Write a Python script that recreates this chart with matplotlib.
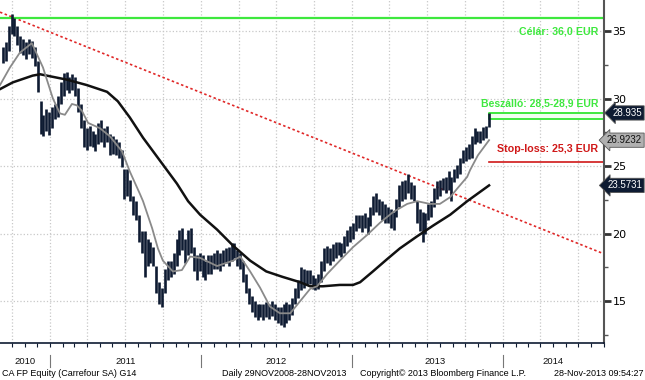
import matplotlib
matplotlib.use('Agg')
import matplotlib.pyplot as plt
import matplotlib.dates as mdates
import pandas as pd

# weekly high / low of CA FP Equity
week_high = [33.8, 34.2, 35.4, 36.3, 36.0, 35.4, 34.6, 34.4, 34.2, 34.4,
             34.3, 33.8, 32.8, 29.8, 28.8, 29.2, 29.0, 29.4, 29.6, 30.2,
             31.2, 31.9, 32.0, 31.6, 31.8, 31.6, 30.8, 29.6, 28.4, 27.8,
             28.0, 27.6, 27.4, 28.2, 28.4, 27.8, 28.0, 27.4, 27.2, 27.0,
             26.8, 26.2, 24.8, 24.8, 24.0, 22.8, 22.4, 21.4, 20.2, 20.2,
             19.6, 19.4, 19.0, 17.6, 16.4, 16.0, 17.4, 18.0, 18.0, 18.6,
             19.6, 20.3, 20.4, 19.6, 20.3, 20.4, 19.0, 18.4, 18.6, 18.4,
             18.0, 18.4, 18.4, 18.6, 18.8, 18.6, 18.8, 18.9, 19.0, 19.3,
             19.3, 18.8, 18.6, 18.0, 17.0, 16.0, 15.4, 15.0, 14.8, 14.8,
             14.8, 14.9, 14.8, 15.0, 14.8, 14.6, 14.6, 14.8, 14.9, 14.8,
             15.2, 16.0, 16.6, 17.5, 17.4, 17.3, 17.3, 16.9, 16.7, 17.0,
             18.0, 18.9, 19.1, 18.9, 19.2, 19.4, 19.4, 19.3, 19.8, 20.3,
             20.6, 20.8, 21.4, 21.4, 21.4, 21.5, 21.2, 22.0, 22.8, 23.0,
             22.6, 22.4, 22.2, 22.0, 21.8, 21.6, 22.6, 23.6, 23.9, 24.0,
             24.4, 23.8, 23.6, 22.4, 21.8, 21.6, 21.5, 22.2, 22.4, 23.4,
             23.9, 24.0, 24.1, 24.2, 24.6, 24.2, 24.8, 25.1, 25.6, 26.2,
             26.4, 26.6, 27.2, 27.8, 27.6, 27.6, 27.9, 28.0, 28.95]
week_low = [32.6, 32.8, 33.5, 34.8, 34.6, 34.0, 33.4, 33.2, 32.9, 33.3,
            33.0, 32.4, 30.5, 27.4, 27.2, 27.6, 27.3, 27.8, 28.5, 28.6,
            29.6, 30.2, 30.6, 30.4, 30.6, 30.2, 29.0, 27.8, 26.4, 26.2,
            26.5, 26.4, 26.1, 26.6, 26.8, 26.4, 26.8, 25.8, 25.9, 25.8,
            25.6, 24.9, 22.6, 22.8, 22.4, 21.4, 21.0, 19.4, 18.6, 16.8,
            17.6, 17.8, 17.6, 15.6, 14.8, 14.6, 15.6, 16.6, 16.8, 17.0,
            17.6, 18.4, 18.8, 17.8, 18.4, 18.6, 17.2, 16.6, 17.2, 16.8,
            16.6, 17.0, 17.0, 17.4, 17.4, 17.2, 17.6, 17.8, 17.6, 18.0,
            18.2, 17.6, 17.4, 16.4, 15.6, 14.8, 14.2, 13.8, 13.6, 13.8,
            13.6, 13.8, 13.7, 13.9, 13.6, 13.4, 13.2, 13.1, 13.4, 13.6,
            14.0, 14.8, 15.2, 15.8, 16.0, 16.2, 16.3, 15.9, 15.8, 15.9,
            16.4, 17.2, 17.8, 17.7, 18.0, 18.2, 18.4, 18.3, 18.6, 19.1,
            19.4, 19.6, 20.2, 20.4, 20.1, 20.4, 20.0, 20.6, 21.4, 21.6,
            21.4, 21.0, 20.8, 20.8, 20.4, 20.3, 21.2, 22.0, 22.4, 22.6,
            23.0, 22.6, 22.4, 20.8, 20.2, 19.4, 20.0, 21.0, 21.2, 22.0,
            22.6, 22.8, 23.2, 23.0, 23.2, 22.4, 23.8, 24.1, 24.4, 25.2,
            25.4, 25.5, 25.6, 26.6, 26.8, 26.7, 26.9, 27.1, 27.9]
last_date = '2013-11-28'

# short moving average (grey)
ma_short_dates = ['2010-09-02', '2010-09-26', '2010-10-20', '2010-11-18', '2010-12-15',
                  '2011-01-08', '2011-01-25', '2011-02-06', '2011-02-23', '2011-03-07',
                  '2011-03-19', '2011-04-03', '2011-05-02', '2011-05-26', '2011-06-24',
                  '2011-07-13', '2011-08-07', '2011-08-14', '2011-09-05', '2011-09-19',
                  '2011-10-01', '2011-10-25', '2011-11-16', '2011-12-06', '2011-12-30',
                  '2012-02-09', '2012-03-19', '2012-04-05', '2012-04-29', '2012-05-23',
                  '2012-06-16', '2012-07-10', '2012-08-04', '2012-08-28', '2012-09-21',
                  '2012-10-08', '2012-11-01', '2012-12-02', '2013-01-03', '2013-02-06',
                  '2013-03-09', '2013-04-10', '2013-05-14', '2013-06-07', '2013-07-08',
                  '2013-08-01', '2013-08-26', '2013-09-11', '2013-10-06', '2013-10-13',
                  '2013-11-01', '2013-11-28']
ma_short = [31.0, 32.3, 33.4, 34.1, 32.3,
            30.0, 28.9, 28.8, 29.6, 29.5,
            29.1, 28.2, 27.8, 27.2, 26.1,
            24.6, 22.9, 22.4, 20.4, 18.9,
            18.0, 17.2, 17.3, 18.3, 18.2,
            17.6, 18.0, 18.3, 17.2, 16.0,
            14.6, 14.1, 14.1, 15.0, 15.9,
            16.1, 17.0, 18.0, 19.0, 19.9,
            20.8, 21.6, 22.2, 22.4, 22.2,
            22.2, 22.7, 23.3, 24.2, 24.7,
            25.8, 26.92]

# long moving average (black)
ma_long_dates = ['2010-09-02', '2010-10-03', '2010-11-20', '2010-12-08', '2011-02-11',
                 '2011-03-31', '2011-05-19', '2011-06-14', '2011-07-13', '2011-08-14',
                 '2011-09-24', '2011-11-04', '2011-12-01', '2011-12-30', '2012-02-09',
                 '2012-03-19', '2012-04-29', '2012-06-07', '2012-07-16', '2012-08-28',
                 '2012-09-21', '2012-10-22', '2012-12-02', '2013-01-03', '2013-01-20',
                 '2013-02-20', '2013-03-26', '2013-04-26', '2013-06-07', '2013-07-16',
                 '2013-08-26', '2013-10-06', '2013-11-28']
ma_long = [30.7, 31.2, 31.7, 31.8, 31.4,
           31.0, 30.5, 29.8, 28.6, 27.1,
           25.4, 23.7, 22.4, 21.4, 20.3,
           19.1, 18.0, 17.2, 16.8, 16.4,
           16.1, 16.1, 16.2, 16.2, 16.4,
           17.2, 18.1, 18.9, 19.8, 20.6,
           21.4, 22.4, 23.57]

# trend line and levels
trend_dates = ['2010-09-02', '2014-09-02']
trend_values = [36.4, 18.5]
target_level = 36.0
entry_low, entry_high = 28.5, 28.9
stop_level = 25.3
last_price = 28.935
years = ['2010', '2011', '2012', '2013', '2014']
year_label_dates = ['2010-11-01', '2011-07-02', '2012-07-02', '2013-07-20', '2014-05-02']
year_bounds = ['2011-01-01', '2012-01-01', '2013-01-01', '2014-01-01']

week_dates = pd.date_range(end=last_date, periods=len(week_high), freq='7D')
x_start = pd.Timestamp('2010-09-02')
x_end = pd.Timestamp('2014-09-02')
navy = '#0e1b32'
green = '#3ee83e'
red = '#d01818'
fnt = ['Liberation Sans', 'DejaVu Sans']

fig = plt.figure(figsize=(6.45, 3.8), dpi=100)
ax = fig.add_axes([0, 0.0974, 604 / 645, 0.9026])
ax.set_xlim(x_start, x_end)
ax.set_ylim(11.9, 37.3)

ax.yaxis.tick_right()
ax.set_yticks([15, 20, 25, 30, 35])
ax.set_yticks([12.5, 17.5, 22.5, 27.5, 32.5], minor=True)
ax.tick_params(axis='y', which='major', direction='out', length=5, width=2,
               color='#333333', labelsize=8, pad=1)
ax.tick_params(axis='y', which='minor', direction='out', length=3, width=1, color='#555555')
for s in ['top', 'left']:
    ax.spines[s].set_visible(False)
ax.spines['right'].set_color('#555555')
ax.spines['right'].set_linewidth(1.5)
ax.spines['bottom'].set_color(navy)
ax.spines['bottom'].set_linewidth(1.2)

# grid
ax.xaxis.set_major_locator(mdates.MonthLocator(bymonth=[1, 4, 7, 10]))
ax.xaxis.set_minor_locator(mdates.MonthLocator())
ax.grid(True, which='major', color='#c8c8c8', linestyle=':', linewidth=0.9)
ax.tick_params(axis='x', which='both', direction='out', length=3, width=0.8,
               color=navy, labelbottom=False)

# price bars
ax.vlines(week_dates, week_low, week_high, color=navy, linewidth=1.9, zorder=3)

# moving averages
ax.plot(pd.to_datetime(ma_long_dates), ma_long, color='#111111', linewidth=1.8, zorder=4)
ax.plot(pd.to_datetime(ma_short_dates), ma_short, color='#8a8a8a', linewidth=1.3, zorder=4)

# trend line
ax.plot(pd.to_datetime(trend_dates), trend_values, color='#e02828', linestyle=(0, (1.5, 1.5)),
        linewidth=1.2, zorder=2)

# levels
last_ts = pd.Timestamp(last_date)
ax.axhline(target_level, color=green, linewidth=1.6, zorder=2)
ax.fill_between([last_ts, x_end], entry_low, entry_high, facecolor='#f0fff0',
                edgecolor=green, linewidth=1.4, zorder=2)
ax.plot([last_ts, x_end], [stop_level, stop_level], color=red, linewidth=1.2, zorder=2)

yt = ax.get_yaxis_transform()
ax.text(0.99, target_level - 1.05, 'Célár: 36,0 EUR', transform=yt,
        ha='right', va='center', color=green, fontsize=7.7, fontweight='bold', family=fnt)
ax.text(0.99, entry_high + 0.75, 'Beszálló: 28,5-28,9 EUR', transform=yt,
        ha='right', va='center', color=green, fontsize=7.5, fontweight='bold', family=fnt)
ax.text(0.99, stop_level + 0.95, 'Stop-loss: 25,3 EUR', transform=yt,
        ha='right', va='center', color=red, fontsize=7.7, fontweight='bold', family=fnt)

# last value tags on the right
tags = [(last_price, '28.935', navy, 'white'),
        (ma_short[-1], '26.9232', '#b0b0b0', '#111111'),
        (ma_long[-1], '23.5731', navy, 'white')]
for val, txt, bg, fg in tags:
    ax.text(1.0 + 38 / 604, val, txt, transform=yt, ha='right', va='center',
            fontsize=7, color=fg, family=fnt, zorder=6, clip_on=False,
            bbox=dict(boxstyle='larrow,pad=0.22', facecolor=bg, edgecolor='#555555', linewidth=0.6))

# year labels below the axis
xt = ax.get_xaxis_transform()
for yr, d in zip(years, year_label_dates):
    ax.text(pd.Timestamp(d), -0.055, yr, transform=xt, ha='center', va='center',
            fontsize=6.8, color='#111111', family=fnt, clip_on=False)
for d in year_bounds:
    ax.plot([pd.Timestamp(d)] * 2, [-0.035, -0.07], transform=xt, color='#777777',
            linewidth=0.8, clip_on=False)

# footer
fy = 7 / 380
fig.text(0.003, fy, 'CA FP Equity (Carrefour SA) G14', fontsize=6.5, family=fnt, va='center')
fig.text(222 / 645, fy, 'Daily 29NOV2008-28NOV2013', fontsize=6.5, family=fnt, va='center')
fig.text(360 / 645, fy, 'Copyright© 2013 Bloomberg Finance L.P.', fontsize=6.5, family=fnt, va='center')
fig.text(0.998, fy, '28-Nov-2013 09:54:27', fontsize=6.5, family=fnt, va='center', ha='right')

fig.savefig('out.png', dpi=100, facecolor='white')
